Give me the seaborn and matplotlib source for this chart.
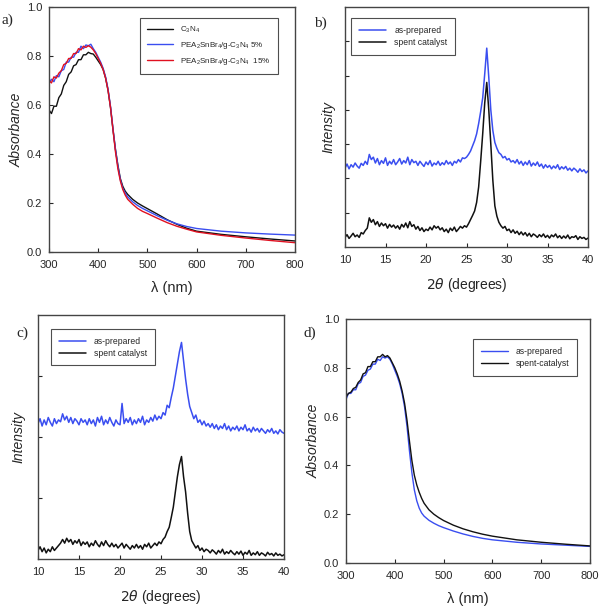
import matplotlib
matplotlib.use("Agg")
import matplotlib.pyplot as plt
import seaborn as sns

# ---------------- UV-vis data (panels a and d) ----------------
wl = [300, 305, 310, 315, 320, 325, 330, 335, 340, 345, 350, 355, 360, 365, 370, 375,
      380, 385, 390, 395, 400, 405, 410, 415, 420, 425, 430, 435, 440, 445, 450, 455,
      460, 470, 480, 490, 500, 520, 540, 560, 580, 600, 650, 700, 750, 800]

abs_c3n4 = [0.58, 0.565, 0.595, 0.595, 0.63, 0.645, 0.68, 0.695, 0.725, 0.735, 0.76, 0.765,
            0.785, 0.785, 0.805, 0.805, 0.815, 0.81, 0.808, 0.795, 0.78, 0.765, 0.745, 0.71,
            0.66, 0.59, 0.50, 0.42, 0.355, 0.30, 0.268, 0.248,
            0.235, 0.215, 0.200, 0.188, 0.177, 0.155, 0.132, 0.113, 0.097, 0.085, 0.072,
            0.062, 0.053, 0.045]
abs_5 = [0.69, 0.705, 0.695, 0.72, 0.715, 0.74, 0.745, 0.775, 0.775, 0.795, 0.795, 0.815,
         0.815, 0.84, 0.83, 0.845, 0.842, 0.848, 0.83, 0.815, 0.795, 0.775, 0.75, 0.715,
         0.665, 0.595, 0.505, 0.42, 0.35, 0.295, 0.26, 0.24,
         0.225, 0.205, 0.190, 0.178, 0.168, 0.148, 0.130, 0.115, 0.104, 0.096, 0.085,
         0.078, 0.073, 0.069]
abs_15 = [0.70, 0.69, 0.715, 0.71, 0.73, 0.74, 0.765, 0.77, 0.79, 0.79, 0.81, 0.81,
          0.83, 0.825, 0.84, 0.835, 0.842, 0.836, 0.825, 0.81, 0.79, 0.77, 0.745, 0.71,
          0.66, 0.59, 0.50, 0.41, 0.34, 0.29, 0.255, 0.232,
          0.215, 0.195, 0.178, 0.166, 0.157, 0.138, 0.120, 0.105, 0.093, 0.082, 0.068,
          0.057, 0.047, 0.038]

abs_d_fresh = [0.67, 0.695, 0.695, 0.71, 0.71, 0.735, 0.74, 0.765, 0.77, 0.79, 0.795, 0.815,
               0.815, 0.835, 0.83, 0.845, 0.84, 0.845, 0.835, 0.815, 0.79, 0.765, 0.735, 0.695,
               0.64, 0.56, 0.46, 0.37, 0.30, 0.255, 0.225, 0.205,
               0.192, 0.175, 0.163, 0.153, 0.145, 0.131, 0.119, 0.109, 0.101, 0.095, 0.085,
               0.078, 0.073, 0.068]
abs_d_spent = [0.68, 0.695, 0.70, 0.715, 0.72, 0.74, 0.75, 0.775, 0.78, 0.805, 0.805, 0.825,
               0.825, 0.845, 0.845, 0.855, 0.845, 0.85, 0.84, 0.82, 0.80, 0.775, 0.745, 0.705,
               0.655, 0.585, 0.50, 0.42, 0.36, 0.32, 0.29, 0.265,
               0.245, 0.218, 0.200, 0.186, 0.174, 0.155, 0.140, 0.128, 0.118, 0.110, 0.095,
               0.085, 0.077, 0.070]

# ---------------- XRD data (panels b and c), 0.25 deg steps ----------------
two_theta = [10 + 0.25 * i for i in range(121)]

xrd_b_fresh = [2.30, 2.42, 2.28, 2.40, 2.33, 2.45, 2.36, 2.30, 2.44, 2.38, 2.50, 2.41,
               2.70, 2.55, 2.62, 2.45, 2.58, 2.40, 2.52, 2.44, 2.60, 2.38, 2.50, 2.42,
               2.55, 2.40, 2.48, 2.58, 2.42, 2.52, 2.45, 2.62, 2.40, 2.55, 2.46, 2.50,
               2.38, 2.50, 2.42, 2.35, 2.48, 2.40, 2.52, 2.36, 2.45, 2.40, 2.50, 2.38,
               2.46, 2.40, 2.52, 2.42, 2.48, 2.38, 2.50, 2.45, 2.55, 2.48, 2.60, 2.58,
               2.62, 2.70, 2.80, 2.95, 3.10, 3.30, 3.60, 3.95, 4.35, 5.05, 5.80, 4.95,
               4.00, 3.40, 3.05, 2.88, 2.75, 2.70, 2.60, 2.64, 2.54, 2.58, 2.48, 2.52,
               2.45, 2.55, 2.42, 2.50, 2.38, 2.48, 2.40, 2.52, 2.36, 2.45, 2.38, 2.48,
               2.35, 2.42, 2.30, 2.40, 2.32, 2.38, 2.28, 2.36, 2.30, 2.40, 2.26, 2.34,
               2.28, 2.35, 2.24, 2.30, 2.22, 2.30, 2.25, 2.18, 2.28, 2.20, 2.25, 2.16,
               2.22]
xrd_b_spent = [0.28, 0.36, 0.25, 0.32, 0.40, 0.30, 0.35, 0.28, 0.42, 0.38, 0.48, 0.55,
               0.85, 0.72, 0.80, 0.65, 0.74, 0.60, 0.70, 0.62, 0.68, 0.55, 0.66, 0.58,
               0.64, 0.55, 0.62, 0.52, 0.66, 0.58, 0.70, 0.56, 0.74, 0.60, 0.65, 0.52,
               0.60, 0.48, 0.56, 0.45, 0.52, 0.48, 0.58, 0.50, 0.62, 0.55, 0.60, 0.50,
               0.56, 0.45, 0.52, 0.42, 0.55, 0.48, 0.58, 0.45, 0.52, 0.60, 0.55, 0.62,
               0.58, 0.68, 0.80, 0.92, 1.05, 1.30, 1.75, 2.50, 3.30, 4.20, 4.80, 4.00,
               3.00, 1.95, 1.20, 0.90, 0.72, 0.62, 0.55, 0.60, 0.48, 0.52, 0.42, 0.50,
               0.40, 0.46, 0.36, 0.44, 0.35, 0.42, 0.32, 0.40, 0.30, 0.38, 0.34, 0.28,
               0.36, 0.30, 0.38, 0.28, 0.34, 0.26, 0.35, 0.30, 0.38, 0.27, 0.33, 0.25,
               0.32, 0.26, 0.35, 0.24, 0.30, 0.28, 0.33, 0.22, 0.30, 0.25, 0.28, 0.22,
               0.26]
xrd_c_fresh = [2.22, 2.30, 2.18, 2.28, 2.20, 2.32, 2.24, 2.18, 2.30, 2.22, 2.28, 2.25,
               2.38, 2.28, 2.34, 2.24, 2.32, 2.22, 2.30, 2.26, 2.20, 2.30, 2.24, 2.28,
               2.20, 2.30, 2.22, 2.28, 2.18, 2.32, 2.24, 2.34, 2.20, 2.28, 2.22, 2.32,
               2.24, 2.18, 2.28, 2.22, 2.20, 2.55, 2.22, 2.30, 2.24, 2.32, 2.20, 2.28,
               2.22, 2.30, 2.24, 2.34, 2.20, 2.28, 2.24, 2.32, 2.26, 2.36, 2.28, 2.34,
               2.30, 2.40, 2.36, 2.52, 2.48, 2.65, 2.80, 3.00, 3.20, 3.40, 3.55, 3.25,
               2.95, 2.70, 2.50, 2.40, 2.30, 2.36, 2.24, 2.28, 2.20, 2.26, 2.18, 2.22,
               2.16, 2.22, 2.14, 2.20, 2.12, 2.18, 2.14, 2.22, 2.12, 2.18, 2.10, 2.16,
               2.12, 2.18, 2.10, 2.16, 2.12, 2.20, 2.10, 2.14, 2.08, 2.16, 2.10, 2.14,
               2.08, 2.14, 2.10, 2.06, 2.12, 2.08, 2.14, 2.06, 2.10, 2.05, 2.12, 2.08,
               2.06]
xrd_c_spent = [0.14, 0.20, 0.12, 0.18, 0.10, 0.16, 0.12, 0.20, 0.14, 0.18, 0.22, 0.26,
               0.32, 0.26, 0.34, 0.28, 0.32, 0.24, 0.30, 0.26, 0.32, 0.22, 0.28, 0.24,
               0.28, 0.20, 0.26, 0.22, 0.30, 0.24, 0.20, 0.28, 0.22, 0.30, 0.24, 0.20,
               0.26, 0.20, 0.24, 0.18, 0.22, 0.26, 0.18, 0.24, 0.20, 0.16, 0.22, 0.18,
               0.24, 0.18, 0.22, 0.16, 0.24, 0.20, 0.26, 0.18, 0.22, 0.26, 0.22, 0.28,
               0.25, 0.32, 0.36, 0.45, 0.52, 0.68, 0.85, 1.10, 1.35, 1.55, 1.68, 1.35,
               1.10, 0.75, 0.45, 0.30, 0.24, 0.18, 0.22, 0.14, 0.18, 0.12, 0.16, 0.14,
               0.10, 0.15, 0.12, 0.08, 0.14, 0.10, 0.16, 0.08, 0.12, 0.09, 0.14, 0.10,
               0.07, 0.12, 0.08, 0.13, 0.06, 0.11, 0.08, 0.14, 0.06, 0.10, 0.07, 0.12,
               0.06, 0.10, 0.08, 0.05, 0.11, 0.07, 0.09, 0.05, 0.10, 0.06, 0.08, 0.05,
               0.07]

BLUE = '#3a4ef0'
RED = '#e01020'
BLACK = '#111111'
FRAME = '#444444'

sns.set_theme(style="ticks")
plt.rcParams.update({
    'font.family': ['Liberation Sans', 'DejaVu Sans'],
    'mathtext.default': 'regular',
    'xtick.direction': 'in',
    'ytick.direction': 'in',
    'xtick.major.size': 3,
    'ytick.major.size': 3,
    'xtick.major.width': 0.8,
    'ytick.major.width': 0.8,
    'xtick.labelsize': 8,
    'ytick.labelsize': 8,
    'xtick.major.pad': 6,
    'ytick.major.pad': 5,
    'axes.edgecolor': FRAME,
    'axes.linewidth': 1.0,
})

W, H = 600, 608
fig = plt.figure(figsize=(W / 100, H / 100), dpi=100)


def add_ax(left, top, right, bottom):
    return fig.add_axes([left / W, 1 - bottom / H, (right - left) / W, (bottom - top) / H])


def style_legend(ax, anchor, fs=6.2, spacing=0.35):
    leg = ax.legend(loc='upper left', bbox_to_anchor=anchor, fontsize=fs, frameon=True,
                    fancybox=False, edgecolor='#222222', handlelength=3.2,
                    borderpad=0.9, labelspacing=spacing, handletextpad=0.9, borderaxespad=0)
    leg.get_frame().set_linewidth(0.8)
    return leg


# ---------------- a) ----------------
ax = add_ax(49, 7, 295, 252)
sns.lineplot(x=wl, y=abs_c3n4, ax=ax, color=BLACK, lw=1.0, label=r'C$_3$N$_4$')
sns.lineplot(x=wl, y=abs_5, ax=ax, color=BLUE, lw=1.0, label=r'PEA$_2$SnBr$_4$/g-C$_3$N$_4$ 5%')
sns.lineplot(x=wl, y=abs_15, ax=ax, color=RED, lw=1.0, label=r'PEA$_2$SnBr$_4$/g-C$_3$N$_4$  15%')
ax.set_xlim(300, 800)
ax.set_ylim(0, 1.0)
ax.set_xticks([300, 400, 500, 600, 700, 800])
ax.set_yticks([0.0, 0.2, 0.4, 0.6, 0.8, 1.0])
ax.set_yticklabels(['0.0', '0.2', '0.4', '0.6', '0.8', '1.0'])
ax.set_xlabel('λ (nm)', fontsize=10.5, labelpad=8)
ax.set_ylabel('Absorbance', fontsize=10, style='italic', labelpad=2)
style_legend(ax, (0.37, 0.955), fs=5.8, spacing=0.6)
fig.text(2 / W, 1 - 20 / H, 'a)', fontsize=11, family='Liberation Serif', va='center')

# ---------------- b) ----------------
ax = add_ax(345, 7, 588, 247)
sns.lineplot(x=two_theta, y=xrd_b_fresh, ax=ax, color=BLUE, lw=1.1, label='as-prepared')
sns.lineplot(x=two_theta, y=xrd_b_spent, ax=ax, color=BLACK, lw=1.1, label='spent catalyst')
ax.set_xlim(10, 40)
ax.set_ylim(0, 7)
ax.set_xticks([10, 15, 20, 25, 30, 35, 40])
ax.set_yticks([1, 2, 3, 4, 5, 6])
ax.set_yticklabels([])
ax.set_xlabel(r'$\mathit{2\theta}$ (degrees)', fontsize=10, labelpad=8)
ax.set_ylabel('Intensity', fontsize=10, style='italic', labelpad=2)
style_legend(ax, (0.025, 0.954))
fig.text(314 / W, 1 - 23 / H, 'b)', fontsize=11, family='Liberation Serif', va='center')

# ---------------- c) ----------------
ax = add_ax(38, 315, 284, 559)
sns.lineplot(x=two_theta, y=xrd_c_fresh, ax=ax, color=BLUE, lw=1.1, label='as-prepared')
sns.lineplot(x=two_theta, y=xrd_c_spent, ax=ax, color=BLACK, lw=1.1, label='spent catalyst')
ax.set_xlim(10, 40)
ax.set_ylim(0, 4)
ax.set_xticks([10, 15, 20, 25, 30, 35, 40])
ax.set_yticks([1, 2, 3])
ax.set_yticklabels([])
ax.set_xlabel(r'$\mathit{2\theta}$ (degrees)', fontsize=10, labelpad=8)
ax.set_ylabel('Intensity', fontsize=10, style='italic', labelpad=4)
style_legend(ax, (0.053, 0.943))
fig.text(16 / W, 1 - 333 / H, 'c)', fontsize=11, family='Liberation Serif', va='center')

# ---------------- d) ----------------
ax = add_ax(346, 319, 590, 563)
sns.lineplot(x=wl, y=abs_d_fresh, ax=ax, color=BLUE, lw=1.0, label='as-prepared')
sns.lineplot(x=wl, y=abs_d_spent, ax=ax, color=BLACK, lw=1.0, label='spent-catalyst')
ax.set_xlim(300, 800)
ax.set_ylim(0, 1.0)
ax.set_xticks([300, 400, 500, 600, 700, 800])
ax.set_yticks([0.0, 0.2, 0.4, 0.6, 0.8, 1.0])
ax.set_yticklabels(['0.0', '0.2', '0.4', '0.6', '0.8', '1.0'])
ax.set_xlabel('λ (nm)', fontsize=10.5, labelpad=8)
ax.set_ylabel('Absorbance', fontsize=10, style='italic', labelpad=2)
style_legend(ax, (0.52, 0.918))
fig.text(303 / W, 1 - 333 / H, 'd)', fontsize=11, family='Liberation Serif', va='center')

fig.savefig('out.png', dpi=100)
